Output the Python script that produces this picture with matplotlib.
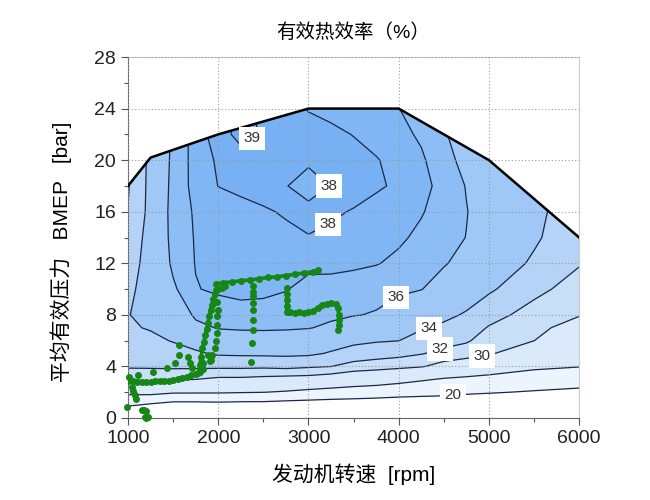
import numpy as np
import matplotlib
matplotlib.use("Agg")
import matplotlib.pyplot as plt
from matplotlib.patches import Polygon
from matplotlib.ticker import MultipleLocator

plt.rcParams['font.family'] = ['Liberation Sans', 'Noto Sans CJK SC']

# map grid: engine speed columns, BMEP rows
speed = [1000, 1250, 1500, 1750, 2000, 2250, 2500, 2750, 3000, 3250,
         3500, 3750, 4000, 4250, 4500, 4750, 5000, 5500, 6000]
bmep = [0, 1, 2, 3, 4, 5, 6, 7, 8, 10, 12, 14, 16, 18, 20, 22, 24]

# efficiency (%), one list per speed (bmep order as above)
eff_1000 = [12, 20.6, 26.04, 30.13, 32.28, 33.2, 33.5, 33.8, 33.95, 33.7, 33.4, 33.0, 32.05, 31.85, 31.5, 31.0, 30.5]
eff_1250 = [12, 19.27, 26.36, 30.5, 32.27, 32.93, 33.6, 34.13, 34.45, 34.59, 34.55, 34.57, 34.61, 34.58, 34.6, 34.5, 34.3]
eff_1500 = [12, 18.15, 25.5, 30.29, 32.37, 33.3, 34.1, 34.5, 34.91, 35.8, 36.25, 36.4, 36.43, 36.36, 36.28, 36.2, 36.0]
eff_1750 = [12, 18.15, 25.45, 30.02, 32.4, 33.73, 34.73, 35.64, 36.23, 36.95, 37.04, 37.07, 37.12, 37.31, 37.36, 37.4, 37.4]
eff_2000 = [12, 18.4, 25.42, 29.58, 32.42, 34.24, 35.22, 36.08, 36.48, 37.16, 37.2, 37.25, 37.38, 38.02, 38.16, 38.6, 38.6]
eff_2250 = [12, 18.15, 25.22, 29.57, 32.44, 34.31, 35.33, 36.15, 36.57, 37.32, 37.35, 37.4, 37.64, 38.26, 38.6, 39.3, 39.3]
eff_2500 = [12, 18.15, 25.05, 29.35, 32.38, 34.36, 35.38, 36.17, 36.58, 37.24, 37.45, 37.6, 37.9, 38.35, 38.55, 38.9, 38.8]
eff_2750 = [12, 17.71, 24.62, 29.13, 32.57, 34.39, 35.37, 36.13, 36.51, 37.05, 37.42, 37.8, 38.09, 38.05, 38.4, 38.6, 38.37]
eff_3000 = [12, 17.52, 23.93, 29.05, 32.27, 34.33, 35.29, 36.05, 36.28, 36.7, 37.23, 37.95, 38.35, 37.5, 38.2, 38.4, 37.94]
eff_3250 = [12, 17.33, 23.33, 28.57, 32.02, 33.82, 34.86, 35.81, 36.19, 36.65, 37.25, 37.85, 38.11, 38.05, 38.28, 38.2, 37.75]
eff_3500 = [12, 17.33, 22.78, 27.86, 31.29, 33.17, 34.44, 35.33, 36.06, 36.6, 37.15, 37.7, 37.95, 38.3, 38.3, 37.97, 37.55]
eff_3750 = [12, 17.16, 22.37, 27.38, 31.0, 32.81, 34.17, 35.04, 35.91, 36.4, 37.05, 37.35, 37.66, 38.13, 38.07, 37.62, 37.3]
eff_4000 = [12, 17.0, 21.82, 26.5, 30.67, 32.57, 34.02, 34.71, 35.43, 36.2, 36.8, 37.15, 37.36, 37.85, 37.64, 37.28, 37.02]
eff_4250 = [12, 16.94, 21.48, 25.5, 30.2, 32.11, 33.22, 34.19, 34.84, 36.04, 36.45, 36.8, 37.07, 37.3, 37.15, 36.85, 36.5]
eff_4500 = [12, 16.85, 21.21, 24.66, 29.09, 31.45, 32.7, 33.7, 34.36, 35.43, 36.1, 36.38, 36.59, 36.68, 36.39, 36.1, 36.0]
eff_4750 = [12, 16.44, 20.69, 24.14, 28.41, 30.96, 32.24, 33.04, 33.84, 34.86, 35.58, 35.98, 36.04, 35.95, 35.64, 35.5, 35.5]
eff_5000 = [12, 16.21, 20.33, 23.67, 27.5, 30.31, 31.08, 31.85, 32.76, 34.3, 35.0, 35.38, 35.48, 35.2, 35.0, 35.0, 35.0]
eff_5500 = [12, 15.81, 19.62, 22.9, 25.74, 27.87, 30.02, 30.59, 31.18, 32.58, 33.77, 34.23, 34.34, 34.0, 34.0, 34.0, 34.0]
eff_6000 = [12, 15.48, 18.96, 22.19, 25.13, 26.43, 27.73, 29.03, 30.13, 31.1, 32.15, 32.9, 33.2, 33.0, 33.0, 33.0, 33.0]

# full load curve
fl_speed = [1000, 1250, 2000, 3000, 4000, 5000, 6000]
fl_bmep = [18, 20.2, 22, 24, 24, 20, 14]

levels = [20, 25, 30, 32, 34, 36, 37, 38, 39, 40]
fill_colors = ['#ecf4fd', '#dbeafa', '#c8dff8', '#b4d3f7', '#9fc8f6',
               '#8dbdf5', '#81b6f4', '#77b0f3', '#71acf2']

# measured operating points (green trace)
row_lo_x = [1000, 1050, 1100, 1150, 1200, 1250, 1300, 1350, 1400, 1450, 1500, 1550, 1600, 1650, 1700, 1750, 1800, 1830]
row_lo_y = [2.9, 2.85, 2.8, 2.8, 2.8, 2.8, 2.85, 2.85, 2.9, 2.9, 2.95, 3.0, 3.1, 3.2, 3.3, 3.45, 3.6, 3.8]
ramp_x = [1780, 1795, 1810, 1825, 1840, 1855, 1870, 1885, 1900, 1915, 1930, 1945, 1960, 1975]
ramp_y = [3.5, 4.1, 4.75, 5.4, 5.9, 6.4, 6.9, 7.35, 7.9, 8.4, 8.8, 9.2, 9.6, 9.9]
row_hi_x = [1980, 2050, 2150, 2250, 2350, 2450, 2550, 2650, 2750, 2850, 2950, 3050, 3100]
row_hi_y = [10.4, 10.5, 10.55, 10.65, 10.7, 10.8, 10.9, 10.95, 11.05, 11.15, 11.25, 11.35, 11.45]
hook_x = [2760, 2760, 2760, 2760, 2760, 2800, 2850, 2900, 2950, 3000, 3050, 3100, 3150, 3200, 3250, 3300, 3330, 3335, 3335, 3335]
hook_y = [10.05, 9.6, 9.15, 8.7, 8.25, 8.2, 8.15, 8.2, 8.15, 8.2, 8.3, 8.55, 8.8, 8.85, 8.9, 8.85, 8.5, 8.0, 7.6, 7.2]
dots_x = [985, 1040, 1060, 1075, 1090, 1150, 1175, 1195, 1185, 1205, 1220, 1200,
          1010, 1110, 1280, 1430, 1520, 1560, 1560, 1670, 1690, 1705, 1830, 1890, 1910,
          1990, 1995, 1990, 1985, 1985, 1975, 1960, 1935, 1920, 2000, 2040, 2080,
          2390, 2390, 2390, 2390, 2390, 2390, 2390, 2375, 2360, 3325]
dots_y = [0.85, 2.4, 2.1, 1.8, 1.45, 0.65, 0.6, 0.55, 0.1, 0.1, 0.1, 0.0,
          3.2, 3.3, 3.6, 3.9, 4.25, 4.9, 5.7, 4.75, 4.25, 3.9, 4.25, 4.9, 4.4,
          9.0, 8.4, 7.9, 7.2, 6.6, 6.0, 5.4, 4.9, 4.5, 10.0, 10.1, 10.2,
          10.2, 9.8, 9.45, 8.9, 8.4, 7.6, 6.8, 5.8, 4.35, 6.85]

label_pos = [(2375, 21.7), (3240, 17.9), (3240, 14.8), (4020, 9.0),
             (4330, 7.0), (4460, 5.3), (4935, 4.5), (4600, 1.6)]

Z = np.array([eff_1000, eff_1250, eff_1500, eff_1750, eff_2000, eff_2250, eff_2500,
              eff_2750, eff_3000, eff_3250, eff_3500, eff_3750, eff_4000, eff_4250,
              eff_4500, eff_4750, eff_5000, eff_5500, eff_6000]).T

fig = plt.figure(figsize=(6.5, 5), dpi=100)
ax = fig.add_axes([0.197, 0.164, 0.694, 0.722])

clip = Polygon(list(zip([1000] + fl_speed + [6000], [0] + fl_bmep + [0])),
               closed=True, transform=ax.transData)

cf = ax.contourf(speed, bmep, Z, levels=levels, colors=fill_colors, zorder=1)
cf.set_clip_path(clip)
cs = ax.contour(speed, bmep, Z, levels=levels[:-1], colors='#1a2846',
                linewidths=0.9, zorder=2)
cs.set_clip_path(clip)

labels = ax.clabel(cs, fmt='%d', manual=label_pos, inline=False, fontsize=11)
for t in labels:
    t.set_rotation(0)
    t.set_color('#333333')
    t.set_bbox(dict(boxstyle='square,pad=0.3', fc='white', ec='none'))
    t.set_zorder(6)

ax.plot(fl_speed, fl_bmep, color='black', lw=1.8, zorder=4)

green = '#168616'
for xs, ys in [(row_lo_x, row_lo_y), (ramp_x, ramp_y), (row_hi_x, row_hi_y), (hook_x, hook_y)]:
    ax.plot(xs, ys, '-o', color=green, lw=2.6, ms=4, zorder=5)
ax.plot(dots_x, dots_y, 'o', color=green, ms=4, zorder=5, clip_on=False)

ax.set_xlim(1000, 6000)
ax.set_ylim(0, 28)
ax.set_xticks(range(1000, 6001, 1000))
ax.set_yticks(range(0, 29, 4))
ax.xaxis.set_minor_locator(MultipleLocator(500))
ax.yaxis.set_minor_locator(MultipleLocator(2))
ax.set_axisbelow(False)
ax.grid(True, which='major', color='#9a9a9a', linestyle=(0, (1, 2)), lw=0.8)
ax.tick_params(which='major', direction='out', length=5, width=0.8,
               color='#555555', labelsize=14, labelcolor='#222222')
ax.tick_params(which='minor', direction='out', length=3, width=0.8, color='#555555')

for side in ['left', 'bottom']:
    ax.spines[side].set_color('#666666')
for side in ['top', 'right']:
    ax.spines[side].set_color('#cccccc')

ax.set_title('有效热效率（%）', fontsize=14, pad=14)
ax.set_xlabel('发动机转速  [rpm]', fontsize=15, labelpad=12)
ax.set_ylabel('平均有效压力   BMEP   [bar]', fontsize=15)
ax.yaxis.set_label_coords(-0.124, 0.46)

fig.savefig('out.png', dpi=100)
